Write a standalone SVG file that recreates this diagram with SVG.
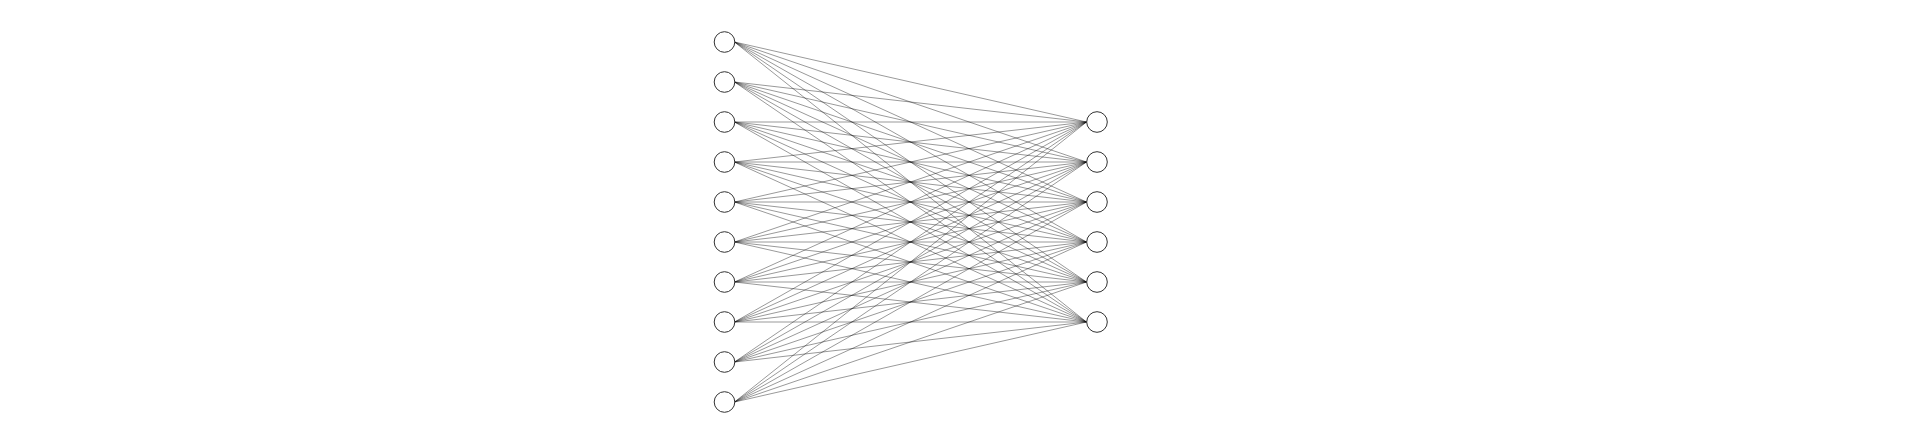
<svg xmlns="http://www.w3.org/2000/svg" width="1920" height="447" viewBox="0 0 1920 447">
<style>
.n{fill:#fff;stroke:#333;stroke-width:1}
.c line{stroke:#000;stroke-width:0.5;stroke-opacity:0.8}
</style>
<rect width="1920" height="447" fill="#fff"/>
<g id="connectors" class="c">
<line x1="734.5" y1="42" x2="1086.5" y2="122"/><line x1="734.5" y1="42" x2="1086.5" y2="162"/><line x1="734.5" y1="42" x2="1086.5" y2="202"/><line x1="734.5" y1="42" x2="1086.5" y2="242"/><line x1="734.5" y1="42" x2="1086.5" y2="282"/><line x1="734.5" y1="42" x2="1086.5" y2="322"/>
<line x1="734.5" y1="82" x2="1086.5" y2="122"/><line x1="734.5" y1="82" x2="1086.5" y2="162"/><line x1="734.5" y1="82" x2="1086.5" y2="202"/><line x1="734.5" y1="82" x2="1086.5" y2="242"/><line x1="734.5" y1="82" x2="1086.5" y2="282"/><line x1="734.5" y1="82" x2="1086.5" y2="322"/>
<line x1="734.5" y1="122" x2="1086.5" y2="122"/><line x1="734.5" y1="122" x2="1086.5" y2="162"/><line x1="734.5" y1="122" x2="1086.5" y2="202"/><line x1="734.5" y1="122" x2="1086.5" y2="242"/><line x1="734.5" y1="122" x2="1086.5" y2="282"/><line x1="734.5" y1="122" x2="1086.5" y2="322"/>
<line x1="734.5" y1="162" x2="1086.5" y2="122"/><line x1="734.5" y1="162" x2="1086.5" y2="162"/><line x1="734.5" y1="162" x2="1086.5" y2="202"/><line x1="734.5" y1="162" x2="1086.5" y2="242"/><line x1="734.5" y1="162" x2="1086.5" y2="282"/><line x1="734.5" y1="162" x2="1086.5" y2="322"/>
<line x1="734.5" y1="202" x2="1086.5" y2="122"/><line x1="734.5" y1="202" x2="1086.5" y2="162"/><line x1="734.5" y1="202" x2="1086.5" y2="202"/><line x1="734.5" y1="202" x2="1086.5" y2="242"/><line x1="734.5" y1="202" x2="1086.5" y2="282"/><line x1="734.5" y1="202" x2="1086.5" y2="322"/>
<line x1="734.5" y1="242" x2="1086.5" y2="122"/><line x1="734.5" y1="242" x2="1086.5" y2="162"/><line x1="734.5" y1="242" x2="1086.5" y2="202"/><line x1="734.5" y1="242" x2="1086.5" y2="242"/><line x1="734.5" y1="242" x2="1086.5" y2="282"/><line x1="734.5" y1="242" x2="1086.5" y2="322"/>
<line x1="734.5" y1="282" x2="1086.5" y2="122"/><line x1="734.5" y1="282" x2="1086.5" y2="162"/><line x1="734.5" y1="282" x2="1086.5" y2="202"/><line x1="734.5" y1="282" x2="1086.5" y2="242"/><line x1="734.5" y1="282" x2="1086.5" y2="282"/><line x1="734.5" y1="282" x2="1086.5" y2="322"/>
<line x1="734.5" y1="322" x2="1086.5" y2="122"/><line x1="734.5" y1="322" x2="1086.5" y2="162"/><line x1="734.5" y1="322" x2="1086.5" y2="202"/><line x1="734.5" y1="322" x2="1086.5" y2="242"/><line x1="734.5" y1="322" x2="1086.5" y2="282"/><line x1="734.5" y1="322" x2="1086.5" y2="322"/>
<line x1="734.5" y1="362" x2="1086.5" y2="122"/><line x1="734.5" y1="362" x2="1086.5" y2="162"/><line x1="734.5" y1="362" x2="1086.5" y2="202"/><line x1="734.5" y1="362" x2="1086.5" y2="242"/><line x1="734.5" y1="362" x2="1086.5" y2="282"/><line x1="734.5" y1="362" x2="1086.5" y2="322"/>
<line x1="734.5" y1="402" x2="1086.5" y2="122"/><line x1="734.5" y1="402" x2="1086.5" y2="162"/><line x1="734.5" y1="402" x2="1086.5" y2="202"/><line x1="734.5" y1="402" x2="1086.5" y2="242"/><line x1="734.5" y1="402" x2="1086.5" y2="282"/><line x1="734.5" y1="402" x2="1086.5" y2="322"/>
</g>
<g id="in0"><circle class="n" cx="724.5" cy="42" r="10.3"/></g>
<g id="in1"><circle class="n" cx="724.5" cy="82" r="10.3"/></g>
<g id="in2"><circle class="n" cx="724.5" cy="122" r="10.3"/></g>
<g id="in3"><circle class="n" cx="724.5" cy="162" r="10.3"/></g>
<g id="in4"><circle class="n" cx="724.5" cy="202" r="10.3"/></g>
<g id="in5"><circle class="n" cx="724.5" cy="242" r="10.3"/></g>
<g id="in6"><circle class="n" cx="724.5" cy="282" r="10.3"/></g>
<g id="in7"><circle class="n" cx="724.5" cy="322" r="10.3"/></g>
<g id="in8"><circle class="n" cx="724.5" cy="362" r="10.3"/></g>
<g id="in9"><circle class="n" cx="724.5" cy="402" r="10.3"/></g>
<g id="out0"><circle class="n" cx="1097" cy="122" r="10.3"/></g>
<g id="out1"><circle class="n" cx="1097" cy="162" r="10.3"/></g>
<g id="out2"><circle class="n" cx="1097" cy="202" r="10.3"/></g>
<g id="out3"><circle class="n" cx="1097" cy="242" r="10.3"/></g>
<g id="out4"><circle class="n" cx="1097" cy="282" r="10.3"/></g>
<g id="out5"><circle class="n" cx="1097" cy="322" r="10.3"/></g>
</svg>
